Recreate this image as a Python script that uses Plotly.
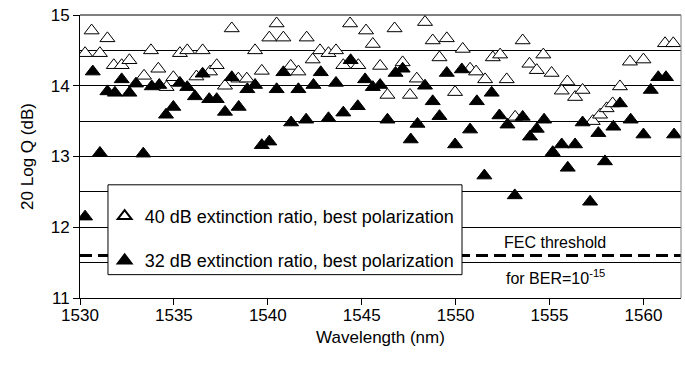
import plotly.graph_objects as go

# Open triangles: 40 dB extinction ratio, best polarization
wl_40 = [1530.27, 1530.62, 1531.06, 1531.46, 1531.80, 1532.22, 1532.63, 1533.41, 1533.78, 1534.17,
         1534.61, 1534.97, 1535.32, 1535.71, 1536.20, 1536.53, 1536.92, 1537.28, 1537.72, 1538.08,
         1538.43, 1538.88, 1539.32, 1539.68, 1540.08, 1540.47, 1540.83, 1541.22, 1541.63, 1542.07,
         1542.39, 1542.78, 1543.23, 1543.63, 1544.02, 1544.38, 1544.82, 1545.23, 1545.59, 1545.98,
         1546.37, 1546.75, 1547.18, 1547.57, 1547.93, 1548.37, 1548.78, 1549.14, 1549.53, 1549.97,
         1550.38, 1550.77, 1551.09, 1551.57, 1551.98, 1552.37, 1552.72, 1553.17, 1553.57, 1553.93,
         1554.32, 1554.67, 1555.11, 1555.65, 1555.95, 1556.36, 1556.76, 1557.30, 1557.69, 1558.04,
         1558.36, 1558.75, 1559.28, 1560.00, 1561.15, 1561.59]
q_40 = [14.46, 14.78, 14.46, 14.67, 14.29, 14.29, 14.36, 14.14, 14.50, 14.24,
        13.98, 14.12, 14.46, 14.50, 14.13, 14.50, 14.20, 14.29, 14.00, 14.81,
        14.10, 14.10, 14.50, 14.21, 14.68, 14.88, 14.68, 14.28, 14.20, 14.68,
        14.37, 14.50, 14.46, 14.50, 14.29, 14.88, 14.29, 14.78, 14.59, 14.28,
        13.87, 14.81, 14.33, 13.87, 14.10, 14.90, 14.64, 14.40, 14.67, 13.91,
        14.52, 14.24, 14.20, 14.09, 14.40, 14.44, 14.09, 13.56, 14.64, 14.31,
        14.22, 14.44, 14.18, 13.93, 14.06, 13.84, 13.94, 13.50, 13.59, 13.68,
        13.75, 13.99, 14.34, 14.37, 14.60, 14.60]

# Filled triangles: 32 dB extinction ratio, best polarization
wl_32 = [1530.27, 1530.68, 1531.06, 1531.46, 1531.86, 1532.22, 1532.63, 1532.98, 1533.37, 1533.82,
         1534.22, 1534.58, 1534.97, 1535.32, 1535.71, 1536.12, 1536.53, 1536.88, 1537.28, 1537.72,
         1538.08, 1538.45, 1538.91, 1539.32, 1539.68, 1540.08, 1540.47, 1540.83, 1541.24, 1541.63,
         1542.04, 1542.43, 1542.82, 1543.23, 1543.63, 1544.02, 1544.41, 1544.79, 1545.18, 1545.59,
         1545.98, 1546.37, 1546.80, 1547.18, 1547.61, 1547.97, 1548.37, 1548.78, 1549.14, 1549.53,
         1549.97, 1550.33, 1550.77, 1551.13, 1551.53, 1551.92, 1552.33, 1552.76, 1553.15, 1553.57,
         1553.96, 1554.32, 1554.71, 1555.17, 1555.65, 1555.97, 1556.36, 1556.76, 1557.16, 1557.60,
         1557.95, 1558.40, 1558.75, 1559.32, 1560.00, 1560.39, 1560.79, 1561.20, 1561.63]
q_32 = [12.15, 14.20, 13.05, 13.92, 13.90, 14.09, 13.90, 14.03, 13.04, 13.99,
        14.01, 13.59, 13.70, 14.04, 13.98, 13.85, 14.17, 13.81, 13.81, 13.63,
        14.12, 13.70, 13.95, 14.01, 13.16, 13.21, 13.95, 14.19, 13.48, 13.95,
        13.52, 14.01, 14.19, 13.54, 14.04, 13.62, 14.36, 13.71, 14.09, 13.98,
        14.01, 13.52, 14.18, 14.24, 13.24, 13.46, 14.00, 13.78, 13.57, 14.18,
        13.17, 14.23, 13.38, 13.78, 12.73, 13.90, 13.58, 13.45, 12.45, 13.56,
        13.28, 13.39, 13.52, 13.06, 13.17, 12.84, 13.17, 13.48, 12.36, 13.33,
        12.93, 13.42, 13.75, 13.52, 13.31, 13.94, 14.12, 14.12, 13.31]

fec_threshold = 11.6
x_range = [1530, 1562]
y_range = [11, 15]
x_ticks = [1530, 1535, 1540, 1545, 1550, 1555, 1560]
y_ticks = [11, 12, 13, 14, 15]

FONT = "Liberation Sans, Arial, sans-serif"

fig = go.Figure()
fig.add_trace(go.Scatter(
    x=wl_40, y=q_40, mode="markers",
    name="40 dB extinction ratio, best polarization", legendgroup="a",
    marker=dict(symbol="triangle-up", size=13, color="white", line=dict(color="black", width=1)),
))
fig.add_trace(go.Scatter(
    x=wl_32, y=q_32, mode="markers",
    name="32 dB extinction ratio, best polarization", legendgroup="b",
    marker=dict(symbol="triangle-up", size=13, color="black", line=dict(color="black", width=1)),
))

shapes = [
    dict(type="line", xref="x", yref="y", x0=x_range[0], x1=x_range[1], y0=fec_threshold, y1=fec_threshold,
         line=dict(color="black", width=3, dash="12px,6px"), layer="above"),
    dict(type="rect", xref="x", yref="y", x0=1531.49, x1=1550.34, y0=11.33, y1=12.6,
         fillcolor="white", line=dict(color="black", width=1), layer="above"),
    dict(type="line", xref="paper", yref="paper", x0=0, x1=1, y0=1, y1=1,
         line=dict(color="black", width=1)),
    dict(type="line", xref="paper", yref="paper", x0=1, x1=1, y0=0, y1=1,
         line=dict(color="#808080", width=1)),
]

annotations = [
    dict(x=1555.3, y=11.78, xref="x", yref="y", text="FEC threshold", showarrow=False,
         font=dict(family=FONT, size=16, color="black")),
    dict(x=1555.3, y=11.30, xref="x", yref="y", text="for BER=10<sup>-15</sup>", showarrow=False,
         font=dict(family=FONT, size=16, color="black")),
]

fig.update_layout(
    width=685, height=376,
    margin=dict(l=80, r=4, t=15, b=78),
    paper_bgcolor="white", plot_bgcolor="white",
    font=dict(family=FONT, size=16, color="black"),
    shapes=shapes, annotations=annotations,
    showlegend=True,
    legend=dict(x=0.041, y=0.354, xanchor="left", yanchor="top",
                bgcolor="rgba(0,0,0,0)", borderwidth=0,
                font=dict(family=FONT, size=18, color="black"),
                traceorder="grouped", tracegroupgap=18, itemsizing="constant"),
    xaxis=dict(range=x_range, tickvals=x_ticks, showgrid=False, zeroline=False, automargin=False,
               showline=True, linecolor="black", linewidth=1,
               ticks="outside", ticklen=6, tickcolor="black", ticklabelstandoff=-4,
               tickfont=dict(family=FONT, size=17),
               title=dict(text="Wavelength (nm)", font=dict(family=FONT, size=17), standoff=6)),
    yaxis=dict(range=y_range, tickvals=y_ticks, showgrid=True, gridcolor="black", gridwidth=1,
               zeroline=False, showline=True, linecolor="black", linewidth=1, automargin=False,
               ticks="outside", ticklen=6, tickcolor="black",
               tickfont=dict(family=FONT, size=17),
               minor=dict(dtick=0.5, tick0=11, showgrid=True, gridcolor="black", gridwidth=1, ticks=""),
               title=dict(text="20 Log Q (dB)", font=dict(family=FONT, size=17), standoff=12)),
)

fig.write_html("out.html", config={"displayModeBar": False},
               post_script="document.body.style.margin='0';")
